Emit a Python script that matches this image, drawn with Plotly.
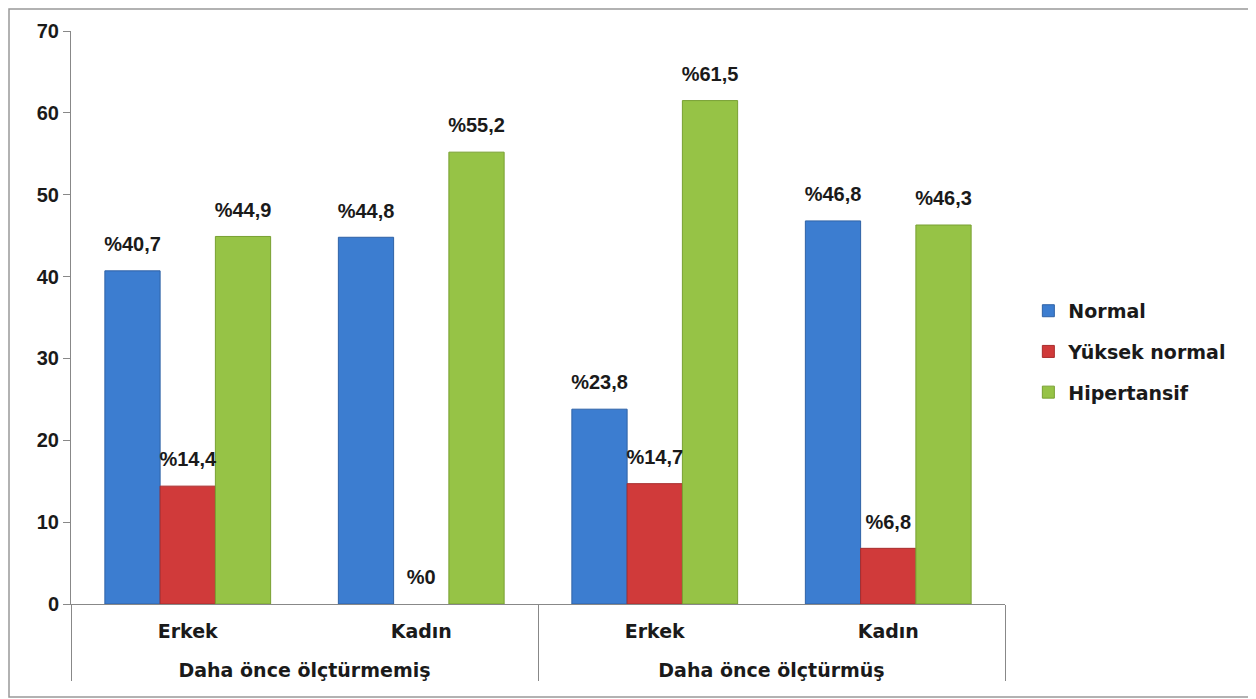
import plotly.graph_objects as go

groups = ["Daha önce ölçtürmemiş", "Daha önce ölçtürmemiş", "Daha önce ölçtürmüş", "Daha önce ölçtürmüş"]
sexes = ["Erkek", "Kadın", "Erkek", "Kadın"]
series_names = ["Normal", "Yüksek normal", "Hipertansif"]
normal = [40.7, 44.8, 23.8, 46.8]
yuksek = [14.4, 0, 14.7, 6.8]
hiper = [44.9, 55.2, 61.5, 46.3]
colors = ["#3C7DD0", "#D03A3A", "#96C346"]
edge_colors = ["#2F62A6", "#A82C2C", "#78A032"]
y_ticks = [0, 10, 20, 30, 40, 50, 60, 70]

NUM_FONT = dict(family="Liberation Sans", size=20, color="#1a1a1a", weight="bold")
TXT_FONT = dict(family="DejaVu Sans", size=19, color="#1a1a1a", weight="bold")


def fmt(v):
    return "%" + ("%g" % v).replace(".", ",")


W, H = 1248, 691
L, R, T, B = 63, 251, 23, 95
PW, PH = W - L - R, H - T - B
GAP = 0.29

# outer level labels pushed one line down to leave room like the reference
outer = ["<br>" + g for g in groups]

fig = go.Figure()
for i, (name, vals, col, ec) in enumerate(zip(series_names, [normal, yuksek, hiper], colors, edge_colors)):
    fig.add_trace(go.Bar(
        name=name, legendgroup=name,
        x=[outer, sexes], y=vals,
        marker=dict(color=col, line=dict(width=[1 if v > 0 else 0 for v in vals], color=ec)),
        offsetgroup=str(i),
        hoverinfo="y",
    ))
for i, (name, vals) in enumerate(zip(series_names, [normal, yuksek, hiper])):
    fig.add_trace(go.Scatter(
        name=name + " etiket", showlegend=False,
        x=[outer, sexes], y=vals,
        mode="markers+text",
        marker=dict(size=22, opacity=0),
        text=[fmt(v) for v in vals],
        textposition="top center",
        textfont=NUM_FONT,
        offsetgroup=str(i),
        cliponaxis=False,
        hoverinfo="skip",
    ))

fig.update_layout(
    width=W, height=H,
    margin=dict(l=L, r=R, t=T, b=B, autoexpand=False),
    paper_bgcolor="white", plot_bgcolor="white",
    barmode="group", bargap=GAP, bargroupgap=0,
    scattermode="group", scattergap=GAP,
    font=dict(family="Liberation Sans", size=16, color="#1a1a1a"),
    legend=dict(x=1.025, y=0.44, xanchor="left", yanchor="middle",
                font=TXT_FONT, traceorder="grouped", tracegroupgap=13,
                itemwidth=30),
    showlegend=True,
)
fig.update_yaxes(range=[0, 70], tickvals=y_ticks, showgrid=False, zeroline=False,
                 showline=True, linecolor="#888", linewidth=1, ticks="outside",
                 ticklen=7, tickcolor="#888", tickfont=NUM_FONT)
fig.update_xaxes(showline=True, linecolor="#888", linewidth=1, showgrid=False,
                 dividercolor="#888", dividerwidth=1, ticks="",
                 ticklabelstandoff=10, tickfont=TXT_FONT)

# outer frame
fig.add_shape(type="rect", xref="paper", yref="paper",
              x0=-(L - 1) / PW, x1=(W - L - 2) / PW,
              y0=-(B - 2) / PH, y1=1 + (T - 1) / PH,
              line=dict(color="#999", width=1.5), fillcolor="rgba(0,0,0,0)", layer="below")

fig.write_html("out.html")
